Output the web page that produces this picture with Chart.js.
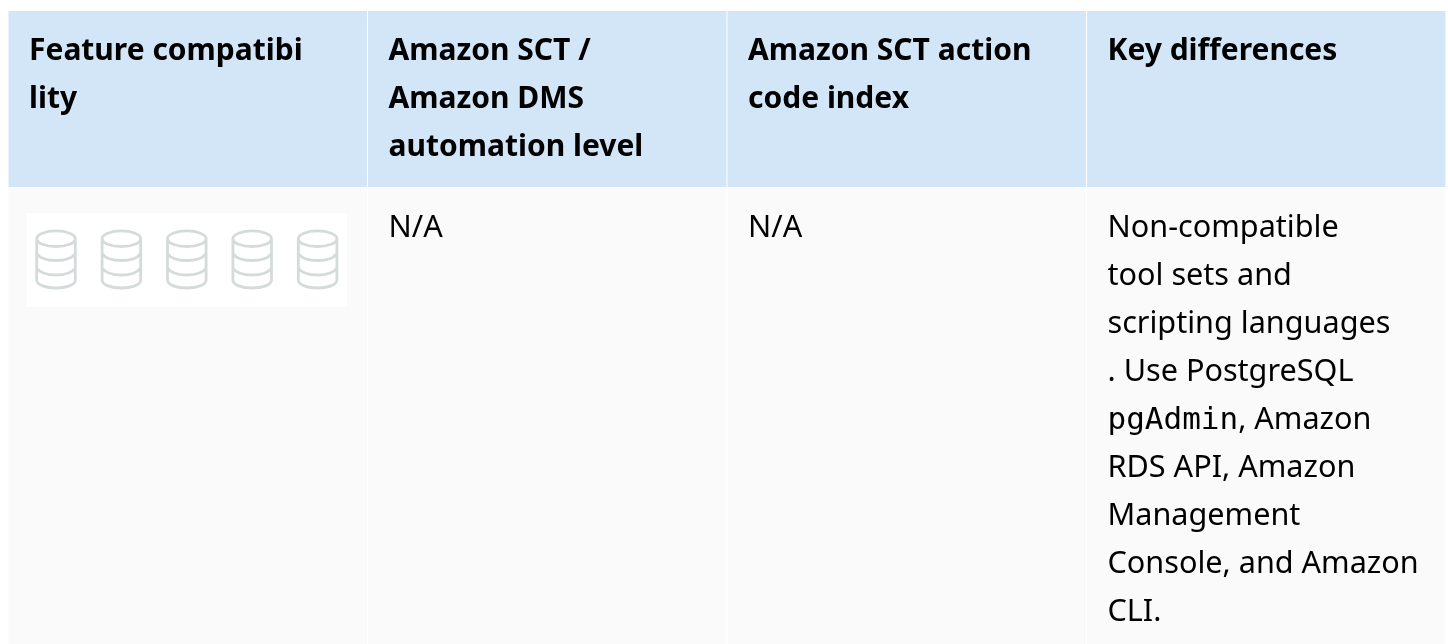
<!DOCTYPE html>
<html><head><meta charset="utf-8">
<style>html,body{margin:0;padding:0;background:#fff;overflow:hidden}canvas{display:block}</style>
<script src="https://cdn.jsdelivr.net/npm/chart.js@4"></script></head>
<body><canvas id="c" width="1448" height="644"></canvas>
<script>
const categories = ["Feature compatibility","Amazon SCT / Amazon DMS automation level","Amazon SCT action code index","Key differences"];
const headerSpan = [[11,187],[11,187],[11,187],[11,187]];
const bodySpan = [[188,644],[188,644],[188,644],[188,644]];
const headerLines = [
  ["Feature compatibi","lity"],
  ["Amazon SCT /","Amazon DMS","automation level"],
  ["Amazon SCT action","code index"],
  ["Key differences"]
];
const bodyLines = [
  [],
  ["N/A"],
  ["N/A"],
  ["Non-compatible","tool sets and","scripting languages",". Use PostgreSQL","pgAdmin|, Amazon","RDS API, Amazon","Management","Console, and Amazon","CLI."]
];
const compatibilityIcons = [0,1,2,3,4];
const SANS = '"Noto Sans"';
function icon(ctx,cx,y){
  const rx=19.3, L=cx-rx, R=cx+rx;
  ctx.beginPath();
  ctx.ellipse(cx,y+8.7,rx,7.8,0,0,Math.PI*2);
  ctx.moveTo(L,y+8.7); ctx.lineTo(L,y+50);
  ctx.bezierCurveTo(L,y+55,cx-10,y+58,cx,y+58);
  ctx.bezierCurveTo(cx+10,y+58,R,y+55,R,y+50);
  ctx.lineTo(R,y+8.7);
  for(const d of [23.5,38]){
    ctx.moveTo(L,y+d); ctx.bezierCurveTo(L+3,y+d+4.5,cx-10,y+d+7,cx,y+d+7);
    ctx.bezierCurveTo(cx+10,y+d+7,R-3,y+d+4.5,R,y+d);
  }
  ctx.stroke();
}
const tablePlugin = {
  id:'tablePlugin',
  afterDatasetsDraw(chart){
    const {ctx,scales:{x,y}}=chart;
    const colW=x.getPixelForValue(1)-x.getPixelForValue(0);
    const left=i=>x.getPixelForValue(i)-colW/2;
    ctx.save();
    ctx.textAlign='left'; ctx.textBaseline='alphabetic'; ctx.fillStyle='#000';
    headerLines.forEach((lines,i)=>lines.forEach((t,k)=>{
      ctx.font='bold 30px '+SANS;
      ctx.fillText(t,left(i)+21,y.getPixelForValue(60+48*k));
    }));
    bodyLines.forEach((lines,i)=>lines.forEach((t,k)=>{
      let px=left(i)+21; const py=y.getPixelForValue(236.5+48.05*k);
      const parts=t.split('|');
      parts.forEach((p,j)=>{
        const mono=parts.length>1&&j===0;
        ctx.font=mono?'31px "DejaVu Sans Mono"':'30.6px '+SANS;
        ctx.fillText(p,px,py);
        px+=ctx.measureText(p).width;
      });
    }));
    ctx.fillStyle='#fff';
    ctx.fillRect(left(0)+19,y.getPixelForValue(213),320,94);
    ctx.strokeStyle='#d5dbdb'; ctx.lineWidth=2.8; ctx.filter='blur(0.5px)';
    compatibilityIcons.forEach(n=>icon(ctx,left(0)+48+65.4*n,y.getPixelForValue(230)));
    ctx.restore();
  }
};
new Chart(document.getElementById('c'),{
  type:'bar',
  data:{labels:categories,datasets:[
    {label:'Header',data:headerSpan,backgroundColor:'#d3e6f8',borderWidth:0,barPercentage:0.9972,categoryPercentage:1,grouped:false},
    {label:'Row',data:bodySpan,backgroundColor:'#fafafa',borderWidth:0,barPercentage:0.9972,categoryPercentage:1,grouped:false}
  ]},
  options:{
    responsive:false,animation:false,
    layout:{padding:{left:8,right:2,top:0,bottom:0}},
    plugins:{legend:{display:false},tooltip:{enabled:false},title:{display:false}},
    scales:{
      x:{display:false},
      y:{display:false,min:0,max:644,reverse:true}
    }
  },
  plugins:[tablePlugin]
});
</script></body></html>
